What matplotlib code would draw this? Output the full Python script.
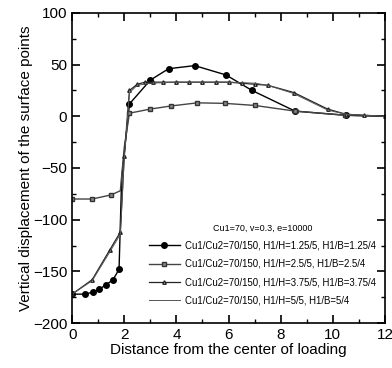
import numpy as np
import matplotlib
matplotlib.use("Agg")
import matplotlib.pyplot as plt
from matplotlib.ticker import MultipleLocator

plt.rcParams['font.family'] = ['Liberation Sans', 'DejaVu Sans']

# series 1: filled circles
x1 = [0, 0.5, 0.8, 1.05, 1.3, 1.57, 1.8, 1.9, 2.2, 3.0, 3.7, 4.7, 5.9, 6.9, 8.55, 10.5, 12.0]
y1 = [-172, -172, -170, -167, -163, -158, -148, -60, 12, 35, 46, 49, 40, 25, 5, 1, 0]
m1 = [0, 1, 2, 3, 4, 5, 6, 8, 9, 10, 11, 12, 13, 14, 15]
# series 2: squares
x2 = [0, 0.77, 1.5, 1.85, 2.0, 2.2, 3.0, 3.8, 4.8, 5.86, 7.0, 8.55, 10.46, 12.0]
y2 = [-80, -80, -76, -72, -30, 3, 7, 10, 13, 12.5, 10.5, 5, 1, 0]
m2 = [0, 1, 2, 5, 6, 7, 8, 9, 10, 11, 12]
# series 3: open triangles
x3 = [0, 0.77, 1.45, 1.85, 2.0, 2.2, 2.5, 2.8, 3.1, 3.5, 4.0, 4.5, 5.0, 5.5, 6.0, 6.5, 7.0, 7.5, 8.5, 9.8, 10.5, 11.2, 12.0]
y3 = [-172, -158, -129, -112, -38, 25, 31, 33, 33, 33, 33, 33, 33, 33, 33, 32, 31, 30, 23, 7, 2, 1, 0]
# series 4: plain line
x4 = [0, 0.77, 1.45, 1.85, 2.0, 2.2, 2.5, 3.0, 4.0, 5.0, 6.0, 7.0, 7.5, 8.5, 9.8, 10.5, 12.0]
y4 = [-172, -159, -131, -114, -40, 23, 30, 32, 33, 33, 33, 32, 30, 22, 6, 2, 0]

labels = [
    "Cu1/Cu2=70/150, H1/H=1.25/5, H1/B=1.25/4",
    "Cu1/Cu2=70/150, H1/H=2.5/5, H1/B=2.5/4",
    "Cu1/Cu2=70/150, H1/H=3.75/5, H1/B=3.75/4",
    "Cu1/Cu2=70/150, H1/H=5/5, H1/B=5/4",
]

fig = plt.figure(figsize=(3.92, 3.68), dpi=100)
ax = fig.add_axes([0.184, 0.122, 0.798, 0.843])

ax.plot(x1, y1, '-o', color='black', lw=1.0, ms=4, markevery=m1, label=labels[0])
ax.plot(x2, y2, '-s', color='#444444', mfc='#888888', mec='#333333', lw=1.0, ms=3.5,
        markevery=m2, label=labels[1])
ax.plot(x3, y3, '-^', color='#222222', mfc='white', mec='#222222', lw=0.9, ms=2.5, label=labels[2])
ax.plot(x4, y4, '-', color='#555555', lw=0.7, label=labels[3])

ax.set_xlim(0, 12)
ax.set_ylim(-200, 100)
ax.xaxis.set_major_locator(MultipleLocator(2))
ax.xaxis.set_minor_locator(MultipleLocator(1))
ax.yaxis.set_major_locator(MultipleLocator(50))
ax.yaxis.set_minor_locator(MultipleLocator(25))
ax.tick_params(which='both', direction='in', top=True, right=True, labelsize=11)
ax.tick_params(which='major', length=6, width=1.2)
ax.tick_params(which='minor', length=3, width=1.0)
for s in ax.spines.values():
    s.set_linewidth(1.2)

ax.set_xlabel("Distance from the center of loading", fontsize=11, labelpad=1)
ax.set_ylabel("Vertical displacement of the surface points", fontsize=11, labelpad=0)

leg = ax.legend(loc='lower right', bbox_to_anchor=(1.0, 0.03), frameon=False,
                fontsize=6.9, title="Cu1=70, v=0.3, e=10000", title_fontsize=6.5,
                handlelength=3.2, handletextpad=0.6, labelspacing=0.85)

fig.savefig("out.png", dpi=100)
